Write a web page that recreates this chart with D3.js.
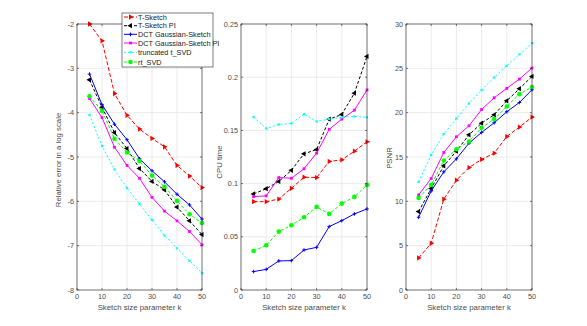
<!DOCTYPE html>
<html lang="en">
<head>
<meta charset="UTF-8">
<title>Sketch comparison</title>
<style>
    body { margin: 0; background: #fff; }
    svg text { font-family: "Liberation Sans", Arial, sans-serif; }
</style>
</head>
<body>
<svg id="chart"></svg>
<script src="https://d3js.org/d3.v7.min.js"></script>
<script>
    const k = [5, 10, 15, 20, 25, 30, 35, 40, 45, 50];
    const seriesNames = ["T-Sketch", "T-Sketch PI", "DCT Gaussian-Sketch", "DCT Gaussian-Sketch PI", "truncated t_SVD", "rt_SVD"];

    // relative error (log scale)
    const errTSketch   = [-2.0, -2.38, -3.57, -4.06, -4.37, -4.58, -4.77, -5.19, -5.43, -5.69];
    const errTSketchPI = [-3.26, -3.88, -4.45, -4.81, -5.26, -5.55, -5.74, -6.13, -6.44, -6.75];
    const errDCT       = [-3.13, -3.82, -4.26, -4.61, -5.04, -5.31, -5.56, -5.84, -6.08, -6.40];
    const errDCTPI     = [-3.68, -4.11, -4.78, -5.19, -5.48, -5.91, -6.22, -6.44, -6.68, -6.98];
    const errTSVD      = [-4.05, -4.75, -5.28, -5.70, -6.06, -6.42, -6.77, -7.06, -7.34, -7.62];
    const errRtSVD     = [-3.63, -3.96, -4.59, -4.90, -5.09, -5.42, -5.67, -5.99, -6.29, -6.49];

    // CPU time
    const cpuTSketch   = [0.083, 0.083, 0.0855, 0.0956, 0.106, 0.1057, 0.1208, 0.1223, 0.1305, 0.1393];
    const cpuTSketchPI = [0.0903, 0.0952, 0.102, 0.1125, 0.128, 0.132, 0.1605, 0.165, 0.185, 0.2195];
    const cpuDCT       = [0.0173, 0.0194, 0.0273, 0.0276, 0.0376, 0.0401, 0.0596, 0.0652, 0.0715, 0.0762];
    const cpuDCTPI     = [0.0878, 0.0885, 0.1057, 0.105, 0.114, 0.1286, 0.151, 0.1606, 0.169, 0.188];
    const cpuTSVD      = [0.1625, 0.1518, 0.1556, 0.1565, 0.1653, 0.1584, 0.1606, 0.1622, 0.1631, 0.1622];
    const cpuRtSVD     = [0.0367, 0.042, 0.0549, 0.0608, 0.0684, 0.0781, 0.0715, 0.0812, 0.0875, 0.0988];

    // PSNR
    const psnrTSketch   = [3.61, 5.27, 10.24, 12.38, 13.81, 14.72, 15.43, 17.31, 18.37, 19.5];
    const psnrTSketchPI = [8.85, 11.44, 14.0, 15.66, 17.5, 18.82, 19.76, 21.34, 22.7, 24.09];
    const psnrDCT       = [8.2, 11.18, 13.32, 14.79, 16.56, 17.77, 18.86, 20.1, 21.15, 22.58];
    const psnrDCTPI     = [10.73, 12.57, 15.51, 17.28, 18.52, 20.36, 21.68, 22.74, 23.79, 25.03];
    const psnrTSVD      = [12.2, 15.24, 17.58, 19.35, 21.04, 22.55, 23.98, 25.29, 26.57, 27.85];
    const psnrRtSVD     = [10.39, 11.86, 14.6, 15.88, 16.75, 18.29, 19.27, 20.7, 22.09, 22.89];

    const xTicks = [0, 10, 20, 30, 40, 50];
    const errTicks = [-8, -7, -6, -5, -4, -3, -2];
    const cpuTicks = [0, 0.05, 0.1, 0.15, 0.2, 0.25];
    const psnrTicks = [0, 5, 10, 15, 20, 25, 30];

    const styles = [
        { color: "#ff0000", dash: "4,2", marker: "right" },
        { color: "#000000", dash: "3,2", marker: "left" },
        { color: "#0000ff", dash: null, marker: "plus" },
        { color: "#ff00ff", dash: null, marker: "square" },
        { color: "#00ffff", dash: "2,2", marker: "small" },
        { color: "#00ff00", dash: "3,2", marker: "circle" }
    ];

    const width = 587, height = 326;
    const svg = d3.select("#chart").attr("width", width).attr("height", height);

    const panels = [
        { x0: 77, x1: 202, domain: [-8, -2], ticks: errTicks, label: "Relative error in a log scale", labelX: 61, labelY: 160,
          data: [errTSketch, errTSketchPI, errDCT, errDCTPI, errTSVD, errRtSVD] },
        { x0: 241, x1: 367, domain: [0, 0.25], ticks: cpuTicks, label: "CPU time", labelX: 222, labelY: 162,
          data: [cpuTSketch, cpuTSketchPI, cpuDCT, cpuDCTPI, cpuTSVD, cpuRtSVD] },
        { x0: 406, x1: 532, domain: [0, 30], ticks: psnrTicks, label: "PSNR", labelX: 392, labelY: 158,
          data: [psnrTSketch, psnrTSketchPI, psnrDCT, psnrDCTPI, psnrTSVD, psnrRtSVD] }
    ];
    const y0 = 24, y1 = 290;

    function drawMarker(g, type, color, cx, cy) {
        if (type === "right" || type === "left") {
            g.append("path")
                .attr("d", d3.symbol(d3.symbolTriangle, 12)())
                .attr("transform", `translate(${cx},${cy}) rotate(${type === "right" ? 90 : -90})`)
                .attr("fill", color);
        } else if (type === "plus") {
            g.append("path")
                .attr("d", `M${cx - 1.8},${cy}H${cx + 1.8}M${cx},${cy - 1.8}V${cy + 1.8}`)
                .attr("stroke", color).attr("stroke-width", 1);
        } else if (type === "square") {
            g.append("rect").attr("x", cx - 1.4).attr("y", cy - 1.4).attr("width", 2.8).attr("height", 2.8).attr("fill", color);
        } else if (type === "small") {
            g.append("rect").attr("x", cx - 1.1).attr("y", cy - 1.1).attr("width", 2.2).attr("height", 2.2).attr("fill", color);
        } else if (type === "circle") {
            g.append("circle").attr("cx", cx).attr("cy", cy).attr("r", 2.3).attr("fill", color);
        }
    }

    panels.forEach(p => {
        const x = d3.scaleLinear().domain([0, 50]).range([p.x0, p.x1]);
        const y = d3.scaleLinear().domain(p.domain).range([y1, y0]);
        const g = svg.append("g");

        // background + grid
        g.append("rect").attr("x", p.x0).attr("y", y0).attr("width", p.x1 - p.x0).attr("height", y1 - y0).attr("fill", "#fff");
        g.selectAll(".gx").data(xTicks).join("line")
            .attr("x1", d => x(d)).attr("x2", d => x(d)).attr("y1", y0).attr("y2", y1)
            .attr("stroke", "#e6e6e6").attr("stroke-width", 0.8);
        g.selectAll(".gy").data(p.ticks).join("line")
            .attr("x1", p.x0).attr("x2", p.x1).attr("y1", d => y(d)).attr("y2", d => y(d))
            .attr("stroke", "#e6e6e6").attr("stroke-width", 0.8);

        // series
        p.data.forEach((vals, i) => {
            const st = styles[i];
            const pts = k.map((kv, j) => [x(kv), y(vals[j])]);
            g.append("path")
                .attr("d", d3.line()(pts))
                .attr("fill", "none")
                .attr("stroke", st.color)
                .attr("stroke-width", 1)
                .attr("stroke-dasharray", st.dash);
            pts.forEach(pt => drawMarker(g, st.marker, st.color, pt[0], pt[1]));
        });

        // box and ticks
        g.append("rect").attr("x", p.x0).attr("y", y0).attr("width", p.x1 - p.x0).attr("height", y1 - y0)
            .attr("fill", "none").attr("stroke", "#262626").attr("stroke-width", 0.6);
        xTicks.forEach(t => {
            g.append("line").attr("x1", x(t)).attr("x2", x(t)).attr("y1", y1).attr("y2", y1 - 2).attr("stroke", "#262626").attr("stroke-width", 0.6);
            g.append("line").attr("x1", x(t)).attr("x2", x(t)).attr("y1", y0).attr("y2", y0 + 2).attr("stroke", "#262626").attr("stroke-width", 0.6);
            g.append("text").attr("x", x(t)).attr("y", y1 + 9).attr("text-anchor", "middle")
                .attr("font-size", 7.3).attr("fill", "#4d4d4d").text(t);
        });
        p.ticks.forEach(t => {
            g.append("line").attr("x1", p.x0).attr("x2", p.x0 + 2).attr("y1", y(t)).attr("y2", y(t)).attr("stroke", "#262626").attr("stroke-width", 0.6);
            g.append("line").attr("x1", p.x1).attr("x2", p.x1 - 2).attr("y1", y(t)).attr("y2", y(t)).attr("stroke", "#262626").attr("stroke-width", 0.6);
            g.append("text").attr("x", p.x0 - 3).attr("y", y(t) + 2.5).attr("text-anchor", "end")
                .attr("font-size", 7.3).attr("fill", "#4d4d4d").text(t);
        });

        g.append("text").attr("x", (p.x0 + p.x1) / 2).attr("y", 310).attr("text-anchor", "middle")
            .attr("font-size", 7.8).attr("fill", "#4d4d4d").text("Sketch size parameter k");
        g.append("text").attr("transform", `translate(${p.labelX},${p.labelY}) rotate(-90)`)
            .attr("text-anchor", "middle").attr("font-size", 7.8).attr("fill", "#4d4d4d").text(p.label);
    });

    // legend
    const lg = svg.append("g");
    const lx = 122, ly = 13, lw = 91, lh = 54;
    lg.append("rect").attr("x", lx).attr("y", ly).attr("width", lw).attr("height", lh)
        .attr("fill", "#fff").attr("stroke", "#262626").attr("stroke-width", 0.6);
    const rowY = [17, 25.7, 34.3, 43, 52.3, 62];
    seriesNames.forEach((name, i) => {
        const st = styles[i];
        lg.append("line").attr("x1", lx + 2).attr("x2", lx + 15).attr("y1", rowY[i]).attr("y2", rowY[i])
            .attr("stroke", st.color).attr("stroke-width", 1).attr("stroke-dasharray", st.dash);
        drawMarker(lg, st.marker, st.color, lx + 8.5, rowY[i]);
        lg.append("text").attr("x", lx + 16).attr("y", rowY[i] + 2.5).attr("font-size", 7.3)
            .attr("fill", "#1a1a1a").text(name);
    });
</script>
</body>
</html>
